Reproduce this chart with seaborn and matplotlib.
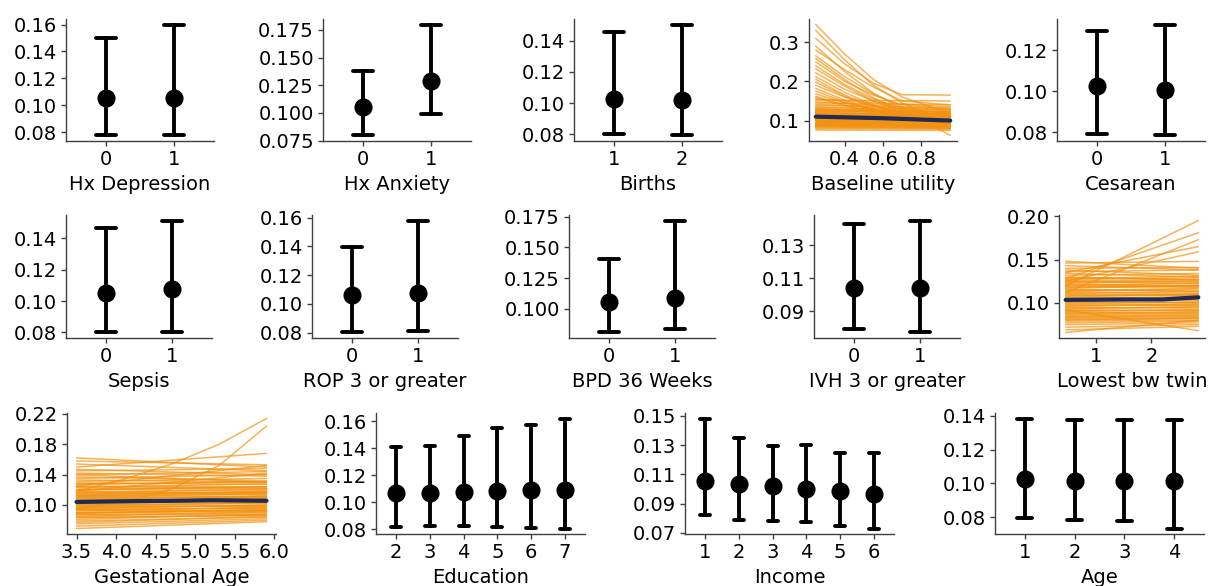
import matplotlib
matplotlib.use("Agg")
import matplotlib.pyplot as plt
from matplotlib.ticker import FormatStrFormatter
import pandas as pd
import seaborn as sns

# ---------------------------------------------------------------
# Point-estimate panels: levels, posterior median, interval bounds
# ---------------------------------------------------------------
hxdep_levels = [0, 1]
hxdep_mid = [0.105, 0.105]
hxdep_lo = [0.0775, 0.0775]
hxdep_hi = [0.150, 0.160]

hxanx_levels = [0, 1]
hxanx_mid = [0.1054, 0.1288]
hxanx_lo = [0.0796, 0.0988]
hxanx_hi = [0.1381, 0.1798]

births_levels = [1, 2]
births_mid = [0.1028, 0.1019]
births_lo = [0.0800, 0.0792]
births_hi = [0.1458, 0.1503]

ces_levels = [0, 1]
ces_mid = [0.1026, 0.1008]
ces_lo = [0.0789, 0.0784]
ces_hi = [0.1293, 0.1326]

sepsis_levels = [0, 1]
sepsis_mid = [0.1049, 0.1075]
sepsis_lo = [0.0800, 0.0804]
sepsis_hi = [0.1467, 0.1514]

rop_levels = [0, 1]
rop_mid = [0.1060, 0.1079]
rop_lo = [0.0802, 0.0812]
rop_hi = [0.1394, 0.1580]

bpd_levels = [0, 1]
bpd_mid = [0.1054, 0.1092]
bpd_lo = [0.0810, 0.0834]
bpd_hi = [0.1405, 0.1717]

ivh_levels = [0, 1]
ivh_mid = [0.1041, 0.1041]
ivh_lo = [0.0788, 0.0770]
ivh_hi = [0.1430, 0.1450]

edu_levels = [2, 3, 4, 5, 6, 7]
edu_mid = [0.1068, 0.1068, 0.1078, 0.1083, 0.1090, 0.1088]
edu_lo = [0.0818, 0.0822, 0.0827, 0.0818, 0.0812, 0.0805]
edu_hi = [0.1407, 0.1420, 0.1493, 0.1549, 0.1576, 0.1622]

inc_levels = [1, 2, 3, 4, 5, 6]
inc_mid = [0.1057, 0.1035, 0.1019, 0.0999, 0.0983, 0.0965]
inc_lo = [0.0824, 0.0790, 0.0783, 0.0772, 0.0750, 0.0730]
inc_hi = [0.1482, 0.1352, 0.1295, 0.1300, 0.1249, 0.1247]

age_levels = [1, 2, 3, 4]
age_mid = [0.1029, 0.1017, 0.1017, 0.1014]
age_lo = [0.0796, 0.0787, 0.0781, 0.0734]
age_hi = [0.1383, 0.1377, 0.1377, 0.1377]

# ---------------------------------------------------------------
# Posterior draw curves for the continuous predictors
# ---------------------------------------------------------------
# Baseline utility: straight draws from x=0.25 to x=0.95
bu_x_range = [0.25, 0.95]
bu_start = [0.155, 0.152, 0.148, 0.145, 0.142, 0.139, 0.136, 0.133, 0.131, 0.129,
            0.127, 0.125, 0.123, 0.121, 0.119, 0.118, 0.116, 0.114, 0.113, 0.111,
            0.110, 0.108, 0.107, 0.105, 0.104, 0.102, 0.101, 0.099, 0.098, 0.096,
            0.095, 0.093, 0.092, 0.090, 0.088, 0.086, 0.084, 0.082, 0.079, 0.076,
            0.128, 0.124, 0.120, 0.117, 0.114, 0.111, 0.108, 0.105, 0.102, 0.099,
            0.096, 0.093, 0.090, 0.087, 0.085, 0.112, 0.106, 0.100, 0.094, 0.089]
bu_end = [0.135, 0.150, 0.128, 0.140, 0.125, 0.132, 0.120, 0.128, 0.116, 0.122,
          0.113, 0.118, 0.109, 0.113, 0.106, 0.110, 0.103, 0.107, 0.101, 0.104,
          0.098, 0.102, 0.096, 0.099, 0.094, 0.097, 0.091, 0.095, 0.089, 0.092,
          0.087, 0.090, 0.085, 0.087, 0.083, 0.084, 0.081, 0.080, 0.078, 0.075,
          0.124, 0.121, 0.112, 0.114, 0.105, 0.108, 0.100, 0.101, 0.095, 0.096,
          0.090, 0.091, 0.086, 0.085, 0.082, 0.118, 0.110, 0.104, 0.098, 0.093]
# Baseline utility: bending draws, values at the knots below
bu_knots = [0.25, 0.40, 0.55, 0.70, 0.95]
bu_bent = [
    [0.345, 0.270, 0.205, 0.160, 0.118],
    [0.330, 0.255, 0.190, 0.145, 0.090],
    [0.310, 0.245, 0.195, 0.166, 0.165],
    [0.290, 0.225, 0.170, 0.130, 0.062],
    [0.280, 0.230, 0.185, 0.150, 0.140],
    [0.265, 0.212, 0.168, 0.135, 0.100],
    [0.258, 0.205, 0.158, 0.125, 0.085],
    [0.250, 0.200, 0.165, 0.140, 0.130],
    [0.240, 0.192, 0.155, 0.130, 0.110],
    [0.232, 0.188, 0.150, 0.120, 0.095],
    [0.222, 0.180, 0.150, 0.128, 0.120],
    [0.212, 0.172, 0.140, 0.115, 0.090],
    [0.205, 0.165, 0.138, 0.118, 0.105],
    [0.198, 0.162, 0.132, 0.110, 0.080],
    [0.190, 0.160, 0.138, 0.122, 0.115],
    [0.182, 0.152, 0.128, 0.112, 0.098],
    [0.175, 0.148, 0.125, 0.108, 0.088],
    [0.168, 0.145, 0.128, 0.116, 0.110],
    [0.162, 0.140, 0.120, 0.105, 0.085],
    [0.158, 0.138, 0.123, 0.112, 0.102],
]
bu_mean_x = [0.25, 0.60, 0.95]
bu_mean_y = [0.110, 0.106, 0.100]

# Lowest birth-weight twin: straight draws from x=0.45 to x=2.85
lbw_x_range = [0.45, 2.85]
lbw_start = [0.148, 0.146, 0.143, 0.140, 0.138, 0.136, 0.134, 0.132, 0.130, 0.128,
             0.126, 0.124, 0.122, 0.120, 0.119, 0.117, 0.115, 0.114, 0.112, 0.111,
             0.109, 0.108, 0.106, 0.105, 0.104, 0.102, 0.101, 0.099, 0.098, 0.096,
             0.095, 0.093, 0.092, 0.090, 0.089, 0.087, 0.085, 0.083, 0.081, 0.079,
             0.077, 0.075, 0.072, 0.069, 0.066, 0.120, 0.128, 0.112, 0.135, 0.125,
             0.092, 0.129, 0.127, 0.125, 0.123, 0.121, 0.118, 0.116, 0.113, 0.110,
             0.107, 0.103, 0.100, 0.097, 0.094, 0.091, 0.088, 0.086, 0.084, 0.082,
             0.080]
lbw_end = [0.140, 0.148, 0.138, 0.141, 0.132, 0.138, 0.130, 0.134, 0.126, 0.131,
           0.124, 0.127, 0.120, 0.123, 0.118, 0.120, 0.114, 0.117, 0.111, 0.113,
           0.108, 0.110, 0.105, 0.107, 0.103, 0.104, 0.100, 0.101, 0.097, 0.099,
           0.094, 0.096, 0.091, 0.092, 0.088, 0.089, 0.085, 0.084, 0.082, 0.080,
           0.079, 0.077, 0.075, 0.073, 0.080, 0.195, 0.181, 0.173, 0.165, 0.159,
           0.068, 0.127, 0.129, 0.122, 0.125, 0.119, 0.120, 0.113, 0.116, 0.109,
           0.110, 0.104, 0.101, 0.098, 0.095, 0.092, 0.090, 0.087, 0.086, 0.083,
           0.082]
lbw_mean_x = [0.45, 1.50, 2.20, 2.85]
lbw_mean_y = [0.1035, 0.1040, 0.1040, 0.1065]

# Gestational age: straight draws from x=3.5 to x=5.9
ga_x_range = [3.5, 5.9]
ga_start = [0.162, 0.158, 0.154, 0.150, 0.147, 0.145, 0.142, 0.140, 0.137, 0.135,
            0.133, 0.131, 0.129, 0.127, 0.125, 0.123, 0.121, 0.120, 0.118, 0.116,
            0.115, 0.113, 0.112, 0.110, 0.109, 0.107, 0.106, 0.104, 0.103, 0.101,
            0.100, 0.098, 0.097, 0.095, 0.094, 0.092, 0.090, 0.089, 0.087, 0.085,
            0.083, 0.081, 0.079, 0.077, 0.075, 0.072, 0.069, 0.125, 0.140, 0.118,
            0.128, 0.124, 0.120, 0.117, 0.114, 0.111, 0.108, 0.105, 0.102, 0.099,
            0.096, 0.093, 0.090, 0.087, 0.084, 0.112, 0.106, 0.100, 0.094, 0.089]
ga_end = [0.150, 0.153, 0.145, 0.168, 0.140, 0.148, 0.138, 0.144, 0.132, 0.140,
          0.130, 0.135, 0.127, 0.131, 0.124, 0.128, 0.121, 0.124, 0.119, 0.121,
          0.117, 0.118, 0.114, 0.115, 0.111, 0.112, 0.108, 0.110, 0.105, 0.107,
          0.102, 0.103, 0.099, 0.100, 0.096, 0.097, 0.093, 0.094, 0.090, 0.091,
          0.087, 0.088, 0.084, 0.085, 0.082, 0.080, 0.078, 0.152, 0.130, 0.142,
          0.130, 0.122, 0.124, 0.115, 0.117, 0.110, 0.112, 0.104, 0.106, 0.098,
          0.100, 0.092, 0.094, 0.088, 0.086, 0.116, 0.108, 0.103, 0.096, 0.092]
ga_knots = [3.5, 4.1, 4.7, 5.3, 5.9]
ga_bent = [
    [0.118, 0.134, 0.154, 0.180, 0.214],
    [0.095, 0.104, 0.121, 0.152, 0.204],
]
ga_mean_x = [3.5, 4.0, 4.7, 5.2, 5.9]
ga_mean_y = [0.1040, 0.1048, 0.1055, 0.1062, 0.1056]

# ---------------------------------------------------------------
# Style
# ---------------------------------------------------------------
sns.set_style("ticks")
plt.rcParams.update({
    "font.family": ["DejaVu Sans"],
    "font.size": 14,
    "text.color": "black",
    "axes.labelcolor": "black",
    "axes.edgecolor": "#404040",
    "axes.linewidth": 1.0,
    "xtick.color": "#404040",
    "ytick.color": "#404040",
    "xtick.labelcolor": "black",
    "ytick.labelcolor": "black",
    "xtick.labelsize": 14,
    "ytick.labelsize": 14,
    "axes.labelsize": 14,
    "xtick.major.size": 3.5,
    "ytick.major.size": 3.5,
    "xtick.major.width": 1.0,
    "ytick.major.width": 1.0,
    "xtick.major.pad": 3.0,
    "ytick.major.pad": 3.0,
})

DRAW_COLOR = "#f29212"
MEAN_COLOR = "#1c2b58"

W, H = 1212, 586
fig = plt.figure(figsize=(W / 100, H / 100), dpi=100)


def place(left, top, width, bottom):
    return fig.add_axes([left / W, 1 - bottom / H, width / W, (bottom - top) / H])


def point_panel(ax, levels, lo, mid, hi, label, yticks, fmt):
    rows = []
    for lev, a, m, b in zip(levels, lo, mid, hi):
        for v in (a, m, b):
            rows.append({"level": lev, "value": v})
    df = pd.DataFrame(rows)
    sns.pointplot(data=df, x="level", y="value", estimator="median",
                  errorbar=lambda v: (v.min(), v.max()),
                  color="black", capsize=0.3, linestyle="none",
                  markersize=11, err_kws={"linewidth": 2.8}, ax=ax)
    ax.set_xlim(-0.6, len(levels) - 0.4)
    ax.set_yticks(yticks)
    ax.yaxis.set_major_formatter(FormatStrFormatter(fmt))
    ax.set_xlabel(label)
    ax.set_ylabel("")
    sns.despine(ax=ax)


def draws_panel(ax, x_range, start, end, knots, bent, mean_x, mean_y,
                label, yticks, yfmt, xticks, xfmt):
    rows = []
    k = 0
    for a, b in zip(start, end):
        rows.append({"draw": k, "x": x_range[0], "y": a})
        rows.append({"draw": k, "x": x_range[1], "y": b})
        k += 1
    for curve in bent:
        for xv, yv in zip(knots, curve):
            rows.append({"draw": k, "x": xv, "y": yv})
        k += 1
    df = pd.DataFrame(rows)
    sns.lineplot(data=df, x="x", y="y", units="draw", estimator=None,
                 color=DRAW_COLOR, linewidth=1.1, alpha=0.7, ax=ax)
    sns.lineplot(x=mean_x, y=mean_y, color=MEAN_COLOR, linewidth=3.0, ax=ax)
    ax.set_yticks(yticks)
    ax.yaxis.set_major_formatter(FormatStrFormatter(yfmt))
    ax.set_xticks(xticks)
    ax.xaxis.set_major_formatter(FormatStrFormatter(xfmt))
    ax.set_xlabel(label)
    ax.set_ylabel("")
    sns.despine(ax=ax)


# ---- Row 1 ----
r1_top, r1_bot, r1_w = 19, 141, 148
ax = place(66, r1_top, r1_w, r1_bot)
point_panel(ax, hxdep_levels, hxdep_lo, hxdep_mid, hxdep_hi, "Hx Depression",
            [0.08, 0.10, 0.12, 0.14, 0.16], "%.2f")
ax = place(323, r1_top, r1_w, r1_bot)
point_panel(ax, hxanx_levels, hxanx_lo, hxanx_mid, hxanx_hi, "Hx Anxiety",
            [0.075, 0.100, 0.125, 0.150, 0.175], "%.3f")
ax = place(574, r1_top, r1_w, r1_bot)
point_panel(ax, births_levels, births_lo, births_mid, births_hi, "Births",
            [0.08, 0.10, 0.12, 0.14], "%.2f")
ax = place(809, r1_top, r1_w, r1_bot)
draws_panel(ax, bu_x_range, bu_start, bu_end, bu_knots, bu_bent,
            bu_mean_x, bu_mean_y, "Baseline utility",
            [0.1, 0.2, 0.3], "%.1f", [0.4, 0.6, 0.8], "%.1f")
ax = place(1057, r1_top, r1_w, r1_bot)
point_panel(ax, ces_levels, ces_lo, ces_mid, ces_hi, "Cesarean",
            [0.08, 0.10, 0.12], "%.2f")

# ---- Row 2 ----
r2_top, r2_bot, r2_w = 215, 338, 146
ax = place(66, r2_top, r2_w, r2_bot)
point_panel(ax, sepsis_levels, sepsis_lo, sepsis_mid, sepsis_hi, "Sepsis",
            [0.08, 0.10, 0.12, 0.14], "%.2f")
ax = place(312, r2_top, r2_w, r2_bot)
point_panel(ax, rop_levels, rop_lo, rop_mid, rop_hi, "ROP 3 or greater",
            [0.08, 0.10, 0.12, 0.14, 0.16], "%.2f")
ax = place(569, r2_top, r2_w, r2_bot)
point_panel(ax, bpd_levels, bpd_lo, bpd_mid, bpd_hi, "BPD 36 Weeks",
            [0.100, 0.125, 0.150, 0.175], "%.3f")
ax = place(814, r2_top, r2_w, r2_bot)
point_panel(ax, ivh_levels, ivh_lo, ivh_mid, ivh_hi, "IVH 3 or greater",
            [0.09, 0.11, 0.13], "%.2f")
ax = place(1059, r2_top, r2_w, r2_bot)
draws_panel(ax, lbw_x_range, lbw_start, lbw_end, [], [],
            lbw_mean_x, lbw_mean_y, "Lowest bw twin",
            [0.10, 0.15, 0.20], "%.2f", [1, 2], "%d")

# ---- Row 3 ----
r3_top, r3_bot, r3_w = 413, 534, 209
ax = place(67, r3_top, r3_w, r3_bot)
draws_panel(ax, ga_x_range, ga_start, ga_end, ga_knots, ga_bent,
            ga_mean_x, ga_mean_y, "Gestational Age",
            [0.10, 0.14, 0.18, 0.22], "%.2f",
            [3.5, 4.0, 4.5, 5.0, 5.5, 6.0], "%.1f")
ax = place(376, r3_top, r3_w, r3_bot)
point_panel(ax, edu_levels, edu_lo, edu_mid, edu_hi, "Education",
            [0.08, 0.10, 0.12, 0.14, 0.16], "%.2f")
ax = place(685, r3_top, r3_w, r3_bot)
point_panel(ax, inc_levels, inc_lo, inc_mid, inc_hi, "Income",
            [0.07, 0.09, 0.11, 0.13, 0.15], "%.2f")
ax = place(995, r3_top, r3_w, r3_bot)
point_panel(ax, age_levels, age_lo, age_mid, age_hi, "Age",
            [0.08, 0.10, 0.12, 0.14], "%.2f")

fig.savefig("out.png", dpi=100)
